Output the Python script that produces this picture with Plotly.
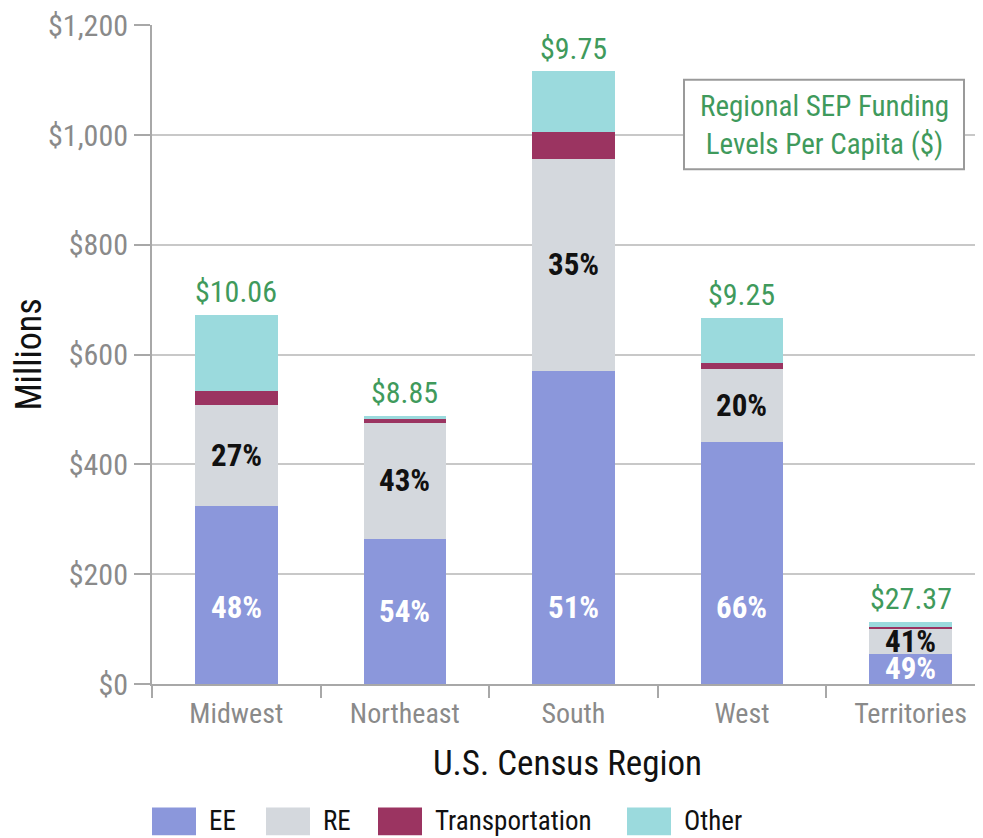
import plotly.graph_objects as go

# ---- data ----
regions = ["Midwest", "Northeast", "South", "West", "Territories"]
ee = [324, 265, 570, 440, 55]
re_ = [185, 211, 387, 133, 46]
transportation = [24, 7, 49, 12, 2]
other = [140, 6, 110, 82, 10]
ee_pct = ["48%", "54%", "51%", "66%", "49%"]
re_pct = ["27%", "43%", "35%", "20%", "41%"]
per_capita = ["$10.06", "$8.85", "$9.75", "$9.25", "$27.37"]
series_names = ["EE", "RE", "Transportation", "Other"]
y_ticks = [0, 200, 400, 600, 800, 1000, 1200]

# ---- style ----
colors = ["#8b97db", "#d4d8dd", "#9b3461", "#9bdadd"]
GREEN = "#3f9a5c"
GRAY = "#8a8a8a"
FONT = "Liberation Sans Narrow, Arial Narrow, Roboto Condensed, DejaVu Sans Condensed, sans-serif"

# page has an 8px body margin; compensate so the plot lands where the reference has it
OFF = 8
W, H = 983 - OFF, 838 - OFF
PL, PR, PT, PB = 152, 983, 22, 684          # plot area in page pixels
L, T = PL - OFF, PT - OFF
R = W + OFF - PR
B = H + OFF - PB
PW, PH = PR - PL, PB - PT

def px(xp):
    return (xp - PL) / PW

def py(yp):
    return (PB - yp) / PH

series = [ee, re_, transportation, other]
fig = go.Figure()
for name, vals, c in zip(series_names, series, colors):
    fig.add_trace(go.Bar(x=regions, y=vals, name=name, marker=dict(color=c, line=dict(width=0)),
                         width=0.49, showlegend=False, hoverinfo="y+name"))

annotations = []
totals = [sum(v) for v in zip(ee, re_, transportation, other)]
for i, r in enumerate(regions):
    annotations.append(dict(x=r, y=totals[i], text=per_capita[i], showarrow=False,
                            yanchor="middle", yshift=23,
                            font=dict(family=FONT, size=30, color=GREEN)))
    annotations.append(dict(x=r, y=ee[i] + re_[i] / 2, text="<b>%s</b>" % re_pct[i], showarrow=False,
                            yanchor="middle", font=dict(family=FONT, size=31, color="#111111")))
    annotations.append(dict(x=r, y=min(140, ee[i] / 2), text="<b>%s</b>" % ee_pct[i], showarrow=False,
                            yanchor="middle", font=dict(family=FONT, size=31, color="white")))

# per-capita explanation box
shapes = [dict(type="rect", xref="paper", yref="paper", x0=px(684), x1=px(964), y0=py(167), y1=py(77),
               line=dict(color="#9a9a9a", width=2), fillcolor="white", layer="above")]
annotations.append(dict(xref="paper", yref="paper", x=px(824), y=py(122), xanchor="center", yanchor="middle",
                        text="Regional SEP Funding<br>Levels Per Capita ($)", showarrow=False,
                        font=dict(family=FONT, size=29, color=GREEN)))

# custom legend
leg_x = [152, 266, 378, 627]
for name, c, xs in zip(series_names, colors, leg_x):
    shapes.append(dict(type="rect", xref="paper", yref="paper", x0=px(xs), x1=px(xs + 44),
                       y0=py(836), y1=py(808), fillcolor=c, line=dict(width=0)))
    annotations.append(dict(xref="paper", yref="paper", x=px(xs + 55), y=py(822), xanchor="left",
                            yanchor="middle", text=name, showarrow=False,
                            font=dict(family=FONT, size=27, color="#111111")))

fig.update_layout(
    barmode="stack",
    width=W, height=H,
    margin=dict(l=L, r=R, t=T, b=B, pad=0),
    plot_bgcolor="white", paper_bgcolor="white",
    font=dict(family=FONT),
    annotations=annotations, shapes=shapes,
    showlegend=False,
)
fig.update_xaxes(range=[-0.5, 4.43], showline=True, linecolor="#a8a8a8", linewidth=2,
                 ticks="outside", tickson="boundaries", ticklen=12, tickcolor="#a8a8a8", tickwidth=1.5,
                 tickfont=dict(family=FONT, size=28, color=GRAY), ticklabelstandoff=3,
                 title=dict(text="U.S. Census Region", font=dict(family=FONT, size=35, color="#111111"),
                            standoff=22),
                 showgrid=False)
fig.update_yaxes(range=[0, 1200.5], tickvals=y_ticks, ticktext=["$" + format(v, ",") for v in y_ticks],
                 showline=True, linecolor="#a8a8a8", linewidth=2,
                 ticks="outside", ticklen=16, tickcolor="#a8a8a8", tickwidth=1.5,
                 tickfont=dict(family=FONT, size=30, color=GRAY), ticklabeloverflow="allow",
                 showgrid=True, gridcolor="#c8c8c8", gridwidth=1.5,
                 title=dict(text="Millions", font=dict(family=FONT, size=36, color="#111111"), standoff=0),
                 zeroline=False)

fig.write_html("out.html")
